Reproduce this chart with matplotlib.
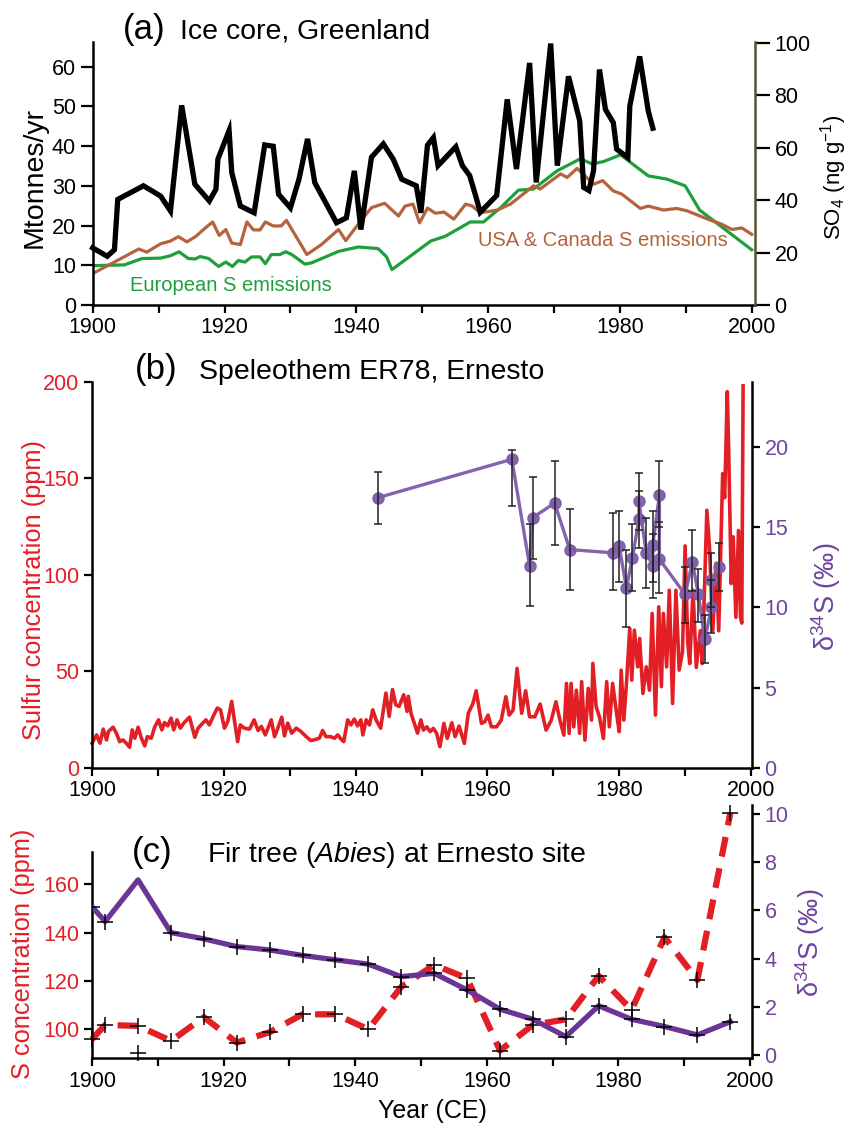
import numpy as np
import matplotlib
matplotlib.use("Agg")
import matplotlib.pyplot as plt
from matplotlib.ticker import MultipleLocator

plt.rcParams["font.family"] = ["Liberation Sans", "DejaVu Sans"]
plt.rcParams["mathtext.fontset"] = "custom"
plt.rcParams["mathtext.rm"] = "Liberation Sans"
plt.rcParams["mathtext.it"] = "Liberation Sans:italic"
plt.rcParams["font.size"] = 15.5

# Data ####################################################################################
# (a) Greenland ice core SO4 (ng/g, right axis) and S emissions (Mt/yr, left axis)
so4_yr = [1900.0, 1902.2, 1903.3, 1903.8, 1907.7, 1910.3, 1911.8, 1913.5, 1915.5, 1917.7,
          1918.7, 1919.0, 1920.7, 1921.1, 1922.4, 1924.5, 1926.1, 1927.4, 1928.2, 1930.0,
          1931.3, 1932.6, 1933.7, 1937.0, 1938.5, 1939.7, 1940.7, 1942.3, 1944.1, 1945.6,
          1946.9, 1949.1, 1949.8, 1950.8, 1951.7, 1952.4, 1955.1, 1956.1, 1957.2, 1958.1,
          1958.8, 1961.3, 1962.9, 1964.3, 1966.3, 1967.3, 1969.5, 1970.5, 1972.2, 1973.9,
          1974.5, 1975.3, 1976.0, 1976.9, 1977.8, 1979.0, 1979.5, 1981.2, 1981.5, 1983.0,
          1984.3, 1985.0]
so4 = [21.8, 18.6, 21.1, 40.3, 45.5, 41.6, 35.9, 76.2, 46.1, 39.7,
       44.2, 55.7, 66.6, 50.6, 37.8, 35.2, 61.1, 60.6, 42.3, 37.1,
       48.0, 63.4, 46.7, 31.4, 33.3, 51.2, 28.8, 56.4, 61.5, 55.7,
       48.0, 45.5, 35.2, 61.0, 63.9, 53.2, 60.4, 53.2, 49.4, 41.8,
       35.4, 41.8, 78.5, 51.9, 92.4, 46.8, 99.8, 53.2, 87.3, 70.3,
       44.9, 43.7, 51.3, 89.9, 74.7, 69.6, 59.5, 56.3, 75.9, 94.9,
       74.1, 67.5]

eu_yr = [1900.0, 1904.8, 1907.5, 1910.3, 1911.8, 1913.1, 1914.5, 1915.6, 1916.3, 1917.6,
         1919.1, 1920.2, 1921.2, 1922.1, 1923.1, 1924.1, 1925.4, 1926.2, 1927.1, 1928.4,
         1929.3, 1930.2, 1932.2, 1933.2, 1937.3, 1940.3, 1943.3, 1944.6, 1945.4, 1951.3,
         1953.5, 1957.3, 1959.3, 1961.9, 1964.6, 1966.9, 1970.5, 1974.0, 1975.8, 1977.5,
         1980.1, 1984.3, 1987.1, 1989.9, 1992.1, 2000.0]
eu = [9.9, 10.1, 11.7, 11.8, 12.4, 13.4, 11.7, 11.6, 12.2, 11.7,
      9.7, 10.8, 9.7, 11.2, 10.8, 12.1, 12.1, 10.4, 12.7, 12.7,
      13.4, 12.7, 10.3, 10.6, 13.5, 14.6, 14.2, 12.1, 8.9, 16.1,
      17.3, 20.9, 20.9, 24.5, 28.9, 29.2, 33.8, 36.8, 35.5, 36.1,
      37.8, 32.5, 31.7, 30.0, 23.9, 13.9]

us_yr = [1900.0, 1907.0, 1908.2, 1910.3, 1911.8, 1913.0, 1914.3, 1915.6, 1917.1, 1918.2,
         1919.2, 1920.2, 1921.1, 1922.4, 1923.4, 1924.4, 1925.4, 1926.2, 1927.4, 1928.6,
         1929.4, 1932.5, 1934.7, 1937.3, 1938.4, 1940.1, 1942.3, 1944.3, 1946.4, 1947.4,
         1948.6, 1949.6, 1950.8, 1952.0, 1953.3, 1954.8, 1956.6, 1957.6, 1958.8, 1961.4,
         1963.4, 1966.9, 1967.9, 1971.0, 1972.0, 1973.5, 1976.0, 1977.4, 1979.0, 1980.3,
         1983.1, 1984.3, 1986.6, 1988.6, 1990.2, 1993.2, 1995.5, 1997.0, 1998.5, 2000.0]
us = [7.9, 14.1, 13.3, 15.4, 16.1, 17.2, 15.9, 17.2, 19.4, 20.9,
      17.5, 19.0, 15.6, 15.2, 20.9, 18.9, 18.9, 20.9, 19.9, 19.9,
      21.3, 12.7, 15.2, 19.0, 16.2, 19.9, 24.5, 25.6, 22.4, 24.9,
      25.4, 20.7, 24.4, 23.1, 23.4, 21.6, 25.4, 24.9, 23.2, 23.9,
      25.4, 30.0, 29.2, 33.0, 32.1, 34.4, 30.4, 31.3, 28.7, 27.9,
      24.3, 24.9, 23.9, 24.3, 23.7, 21.7, 20.3, 19.0, 19.4, 17.8]

# (b) speleothem ER78 sulfur (ppm) and d34S (permil) with error bar ends
sp_yr = [1900.0, 1900.7, 1901.2, 1901.7, 1902.2, 1902.5, 1903.2, 1903.7, 1904.2, 1904.7,
         1905.2, 1905.7, 1906.1, 1906.5, 1907.0, 1907.5, 1908.0, 1908.4, 1909.0, 1909.5,
         1910.1, 1910.6, 1911.0, 1911.5, 1912.0, 1912.4, 1912.9, 1913.4, 1914.0, 1914.8,
         1915.6, 1916.1, 1916.8, 1917.3, 1917.8, 1918.5, 1919.0, 1919.5, 1920.1, 1920.6,
         1921.2, 1921.6, 1922.1, 1922.5, 1923.1, 1923.9, 1924.6, 1925.2, 1925.7, 1926.3,
         1927.2, 1927.7, 1928.1, 1928.8, 1929.2, 1929.7, 1930.3, 1931.0, 1931.7, 1932.5,
         1933.2, 1933.7, 1934.5, 1935.0, 1935.5, 1936.2, 1936.8, 1937.3, 1937.8, 1938.2,
         1938.8, 1939.3, 1939.8, 1940.3, 1940.8, 1941.1, 1941.6, 1942.1, 1942.6, 1943.1,
         1943.8, 1944.6, 1945.1, 1945.6, 1946.1, 1946.6, 1947.3, 1947.8, 1948.0, 1948.4,
         1948.9, 1949.4, 1949.9, 1950.3, 1950.8, 1951.3, 1951.8, 1952.3, 1952.8, 1953.4,
         1953.9, 1954.6, 1955.1, 1955.7, 1956.5, 1957.1, 1957.8, 1958.3, 1959.1, 1959.6,
         1960.1, 1960.6, 1961.4, 1962.1, 1962.8, 1963.3, 1963.9, 1964.5, 1965.2, 1965.8,
         1966.4, 1967.2, 1968.0, 1968.9, 1969.7, 1970.4, 1971.0, 1971.6, 1972.0, 1972.4,
         1972.7, 1973.1, 1973.5, 1974.0, 1974.3, 1974.8, 1975.3, 1975.8, 1976.0, 1976.5,
         1977.0, 1977.6, 1978.1, 1978.5, 1979.0, 1979.6, 1980.0, 1980.3, 1980.7, 1981.1,
         1981.6, 1981.9, 1982.3, 1982.8, 1983.1, 1983.6, 1984.1, 1984.6, 1985.0, 1985.5,
         1986.0, 1986.4, 1986.7, 1987.2, 1987.6, 1988.1, 1988.6, 1989.1, 1989.6, 1990.0,
         1990.4, 1990.7, 1991.2, 1991.7, 1992.3, 1992.6, 1993.3, 1993.7, 1994.2, 1994.7,
         1995.1, 1995.7, 1996.0, 1996.4, 1996.6, 1997.0, 1997.3, 1997.7, 1998.1, 1998.4,
         1998.6, 1998.8]
sp_s = [12.7, 17.0, 12.7, 20.0, 14.4, 18.8, 21.0, 17.9, 13.5, 14.4,
        12.7, 10.6, 19.6, 15.3, 21.0, 15.3, 11.3, 16.1, 15.3, 21.0,
        24.8, 19.6, 23.4, 21.7, 25.7, 19.6, 24.8, 20.5, 23.4, 26.2,
        15.8, 20.5, 23.1, 24.8, 22.2, 27.4, 30.9, 30.0, 20.5, 24.0,
        34.4, 24.8, 13.5, 22.2, 20.5, 20.0, 24.8, 19.3, 21.4, 17.0,
        24.8, 16.1, 19.6, 26.2, 16.5, 23.1, 17.9, 20.5, 18.8, 16.1,
        14.1, 14.4, 15.3, 19.3, 16.1, 16.1, 15.3, 17.0, 14.8, 13.5,
        24.8, 22.2, 25.2, 21.7, 24.8, 17.0, 24.8, 22.2, 30.0, 24.8,
        20.5, 38.7, 26.6, 40.5, 32.6, 31.8, 37.8, 29.2, 37.0, 28.3,
        23.1, 17.9, 24.8, 19.5, 21.2, 18.7, 20.4, 17.8, 10.9, 23.0,
        15.2, 23.3, 16.1, 21.6, 12.6, 28.2, 33.3, 39.9, 23.0, 23.8,
        27.3, 21.2, 21.2, 24.7, 36.8, 27.3, 29.9, 51.5, 28.2, 39.9,
        26.4, 26.4, 33.0, 19.5, 24.7, 34.2, 24.7, 16.9, 43.7, 17.8,
        43.7, 21.2, 40.2, 17.8, 44.6, 14.3, 41.1, 24.7, 54.1, 31.6,
        26.4, 15.2, 44.6, 21.2, 43.7, 28.2, 18.7, 50.6, 24.7, 43.7,
        72.2, 45.4, 71.3, 52.3, 67.0, 38.5, 52.3, 40.2, 80.0, 27.3,
        83.4, 42.0, 80.0, 52.3, 92.0, 33.3, 92.0, 50.6, 60.0, 115.0,
        65.0, 54.0, 92.0, 52.0, 71.0, 54.0, 133.5, 114.5, 71.0, 106.0,
        71.0, 152.5, 140.0, 195.0, 166.0, 95.5, 119.7, 78.0, 123.0, 78.0,
        75.0, 198.0]

d34_yr = [1943.4, 1963.7, 1966.4, 1966.9, 1970.2, 1972.5, 1979.0, 1980.0, 1981.1, 1982.0,
          1983.0, 1983.0, 1984.1, 1985.1, 1985.1, 1986.1, 1986.1, 1990.0, 1991.1, 1992.0,
          1993.0, 1994.0, 1994.0, 1995.1]
d34_b = [16.84, 19.23, 12.6, 15.6, 16.5, 13.6, 13.4, 13.8, 11.2, 13.1,
         15.5, 16.6, 13.4, 12.6, 13.9, 17.0, 13.0, 10.8, 12.8, 10.85,
         8.0, 10.0, 11.7, 12.5]
d34_hi = [18.46, 19.8, 15.2, 18.1, 19.1, 16.1, 15.9, 16.0, 13.6, 15.2,
          17.25, 18.4, 15.6, 14.6, 16.0, 19.1, 15.3, 12.5, 14.8, 12.4,
          9.5, 11.7, 13.4, 14.0]
d34_lo = [15.2, 16.3, 10.1, 13.0, 13.9, 11.1, 11.1, 11.6, 8.75, 11.0,
          13.7, 14.85, 11.2, 10.6, 11.6, 15.0, 10.9, 9.0, 11.0, 9.1,
          6.5, 8.4, 10.0, 11.0]

# (c) fir tree at Ernesto site
tree_yr = [1900, 1902, 1907, 1912, 1917, 1922, 1927, 1932, 1937, 1942,
           1947, 1952, 1957, 1962, 1967, 1972, 1977, 1982, 1987, 1992, 1997]
tree_s = [95.9, 101.8, 101.4, 95.2, 105.0, 94.5, 98.8, 106.2, 106.2, 100.0,
          117.6, 126.6, 121.1, 91.2, 101.8, 104.1, 122.1, 108.0, 138.1, 120.4, 189.4]
tree_d34 = [6.16, 5.54, 7.27, 5.08, 4.82, 4.50, 4.36, 4.13, 3.95, 3.77,
            3.25, 3.39, 2.70, 1.90, 1.48, 0.76, 2.04, 1.48, 1.18, 0.83, 1.38]
tree_extra_yr = [1907]
tree_extra_s = [90.0]

# Colours ################################################################################
red = "#e31f26"
green = "#1e9f3c"
brown = "#b4643c"
olive = "#54542e"
purple_b = "#7d5ca8"
purple_c = "#6a3594"
purple_txt = "#70449f"

# Figure ##################################################################################
W, H = 851.0, 1124.0
fig = plt.figure(figsize=(W / 100, H / 100), dpi=100)


def add_ax(x0, x1, ytop, ybot):
    return fig.add_axes([x0 / W, 1 - ybot / H, (x1 - x0) / W, (ybot - ytop) / H])


def style(ax):
    for s in ax.spines.values():
        s.set_linewidth(1.8)
    ax.spines["top"].set_visible(False)
    ax.tick_params(which="both", direction="out", width=1.6, length=6, labelsize=15.5, pad=3)


def year_axis(ax):
    ax.set_xticks(np.arange(1900, 2001, 20))
    ax.xaxis.set_minor_locator(MultipleLocator(10))


# (a) ---------------------------------------------------------------------------------------
ax_a = add_ax(92.7, 755, 42, 305)
style(ax_a)
ax_a.spines["right"].set_visible(False)
ax_a.plot(eu_yr, eu, color=green, lw=2.3)
ax_a.plot(us_yr, us, color=brown, lw=2.3)
ax_a.set_xlim(1900, 2000.5)
ax_a.set_ylim(0, 66.2)
ax_a.set_yticks(np.arange(0, 61, 10))
ax_a.tick_params(axis="y", length=9)
year_axis(ax_a)

ax_a2 = ax_a.twinx()
style(ax_a2)
for k in ["left", "bottom"]:
    ax_a2.spines[k].set_visible(False)
ax_a2.spines["right"].set_color(olive)
ax_a2.plot(so4_yr, so4, color="black", lw=3.8, solid_joinstyle="miter", clip_on=False)
ax_a2.set_ylim(0, 100.4)
ax_a2.set_yticks(np.arange(0, 101, 20))
ax_a2.tick_params(axis="y", length=11)

fig.text(123 / W, 1 - 39 / H, "(a)", fontsize=25, va="baseline")
fig.text(180 / W, 1 - 39 / H, "Ice core, Greenland", fontsize=20.5, va="baseline")
fig.text(130 / W, 1 - 291 / H, "European S emissions", fontsize=14.5, color=green, va="baseline")
fig.text(478 / W, 1 - 246 / H, "USA & Canada S emissions", fontsize=14.5, color=brown, va="baseline")
fig.text(35 / W, 1 - 178 / H, "Mtonnes/yr", fontsize=20.5, rotation=90, ha="center", va="center")
fig.text(834 / W, 1 - 177 / H, "SO$_4$ (ng g$^{-1}$)", fontsize=16, rotation=90, ha="center", va="center")

# (b) ---------------------------------------------------------------------------------------
ax_b = add_ax(92, 752, 382, 767.7)
style(ax_b)
ax_b.spines["right"].set_visible(False)
ax_b.plot(sp_yr, sp_s, color=red, lw=2.6, clip_on=False)
ax_b.set_xlim(1900, 2000.15)
ax_b.set_ylim(0, 200)
ax_b.set_yticks(np.arange(0, 201, 50))
ax_b.tick_params(axis="y", labelcolor=red)
year_axis(ax_b)

ax_b2 = ax_b.twinx()
style(ax_b2)
for k in ["left", "bottom"]:
    ax_b2.spines[k].set_visible(False)
d34_b_arr = np.array(d34_b)
yerr_b = [d34_b_arr - np.array(d34_lo), np.array(d34_hi) - d34_b_arr]
ax_b2.plot(d34_yr, d34_b, color=purple_b, lw=2.4, marker="o", ms=8, mfc=purple_b, mec=purple_b, alpha=0.95)
ax_b2.errorbar(d34_yr, d34_b, yerr=yerr_b, fmt="none", ecolor="#222222", elinewidth=1.1, capsize=3, capthick=1.1)
ax_b2.set_ylim(0, 24.05)
ax_b2.set_yticks(np.arange(0, 21, 5))
ax_b2.tick_params(axis="y", labelcolor=purple_txt)

fig.text(135 / W, 1 - 379 / H, "(b)", fontsize=25, va="baseline")
fig.text(199 / W, 1 - 379 / H, "Speleothem ER78, Ernesto", fontsize=20.5, va="baseline")
fig.text(34 / W, 1 - 590 / H, "Sulfur concentration (ppm)", fontsize=18.3, color=red,
         rotation=90, ha="center", va="center")
fig.text(826 / W, 1 - 597 / H, "δ$^{34}$S (‰)", fontsize=19.5, color=purple_txt,
         rotation=90, ha="center", va="center")

# (c) ---------------------------------------------------------------------------------------
ax_c = add_ax(92, 752, 805, 1058.3)
style(ax_c)
ax_c.spines["right"].set_visible(False)
ax_c.plot(tree_yr, tree_s, color=red, lw=4.5, dashes=(3.2, 1.9), clip_on=False)
ax_c.plot(tree_yr, tree_s, "+", color="black", ms=11, mew=1.1, clip_on=False)
ax_c.plot(tree_extra_yr, tree_extra_s, "+", color="black", ms=11, mew=1.1, clip_on=False)
ax_c.set_xlim(1900, 2000.3)
ax_c.set_ylim(88, 192.8)
ax_c.spines["left"].set_bounds(88, 173.4)
ax_c.set_yticks(np.arange(100, 161, 20))
ax_c.tick_params(axis="y", labelcolor=red)
year_axis(ax_c)

ax_c2 = ax_c.twinx()
style(ax_c2)
for k in ["left", "bottom"]:
    ax_c2.spines[k].set_visible(False)
marks_c = [i for i in range(len(tree_yr)) if i != 2]
ax_c2.plot(tree_yr, tree_d34, color=purple_c, lw=3.8)
ax_c2.plot(tree_yr, tree_d34, "+", color="black", ms=11, mew=1.1, markevery=marks_c)
ax_c2.set_ylim(-0.14, 10.38)
ax_c2.set_yticks(np.arange(0, 11, 2))
ax_c2.tick_params(axis="y", labelcolor=purple_txt)

fig.text(132 / W, 1 - 862 / H, "(c)", fontsize=25, va="baseline")
fig.text(207 / W, 1 - 862 / H, "Fir tree ($\\it{Abies}$) at Ernesto site", fontsize=20.5, va="baseline")
fig.text(23 / W, 1 - 954 / H, "S concentration (ppm)", fontsize=18.3, color=red,
         rotation=90, ha="center", va="center")
fig.text(810 / W, 1 - 943 / H, "δ$^{34}$S (‰)", fontsize=19.5, color=purple_txt,
         rotation=90, ha="center", va="center")
fig.text(432 / W, 1 - 1111 / H, "Year (CE)", fontsize=18, ha="center", va="center")

fig.savefig("out.png", dpi=100)
